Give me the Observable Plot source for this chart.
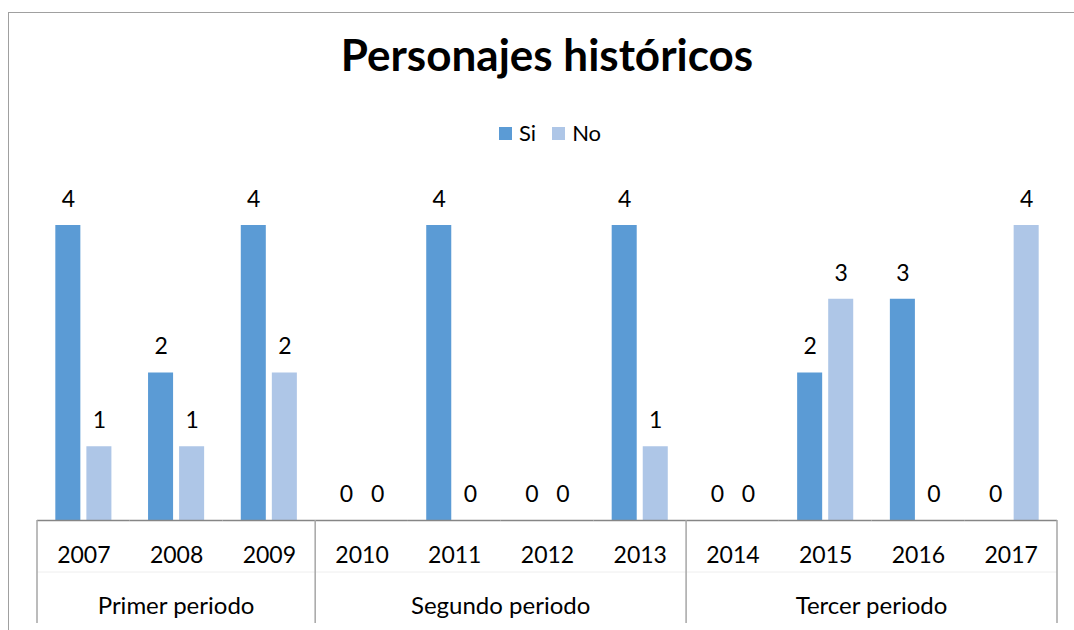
<!DOCTYPE html>
<html>
<head>
<meta charset="utf-8">
<script src="https://cdn.jsdelivr.net/npm/d3@7"></script>
<script src="https://cdn.jsdelivr.net/npm/@observablehq/plot@0.6"></script>
<style>
  html, body { margin: 0; padding: 0; width: 1074px; height: 630px; overflow: hidden; background: #fff; font-family: Lato, "Open Sans", sans-serif; }
  #frame { position: absolute; left: 8px; top: 12px; width: 1200px; height: 800px; border: 1.5px solid #a0a0a0; box-sizing: border-box; }
  #title { position: absolute; left: 0; width: 1094px; top: 32px; text-align: center; font-size: 44px; line-height: 44px; font-weight: bold; color: #000; }
  #legend { position: absolute; left: 499px; top: 122px; display: flex; align-items: center; font-size: 22px; line-height: 22px; color: #000; }
  #legend .sw { width: 13px; height: 13px; display: inline-block; margin-right: 7px; }
  #legend .item { display: flex; align-items: center; margin-right: 16px; }
  #chart { position: absolute; left: 0; top: 150px; }
</style>
</head>
<body>
<div id="frame"></div>
<div id="title">Personajes históricos</div>
<div id="legend"></div>
<div id="chart"></div>
<script>
const years = ["2007","2008","2009","2010","2011","2012","2013","2014","2015","2016","2017"];
const siValues = [4, 2, 4, 0, 4, 0, 4, 0, 2, 3, 0];
const noValues = [1, 1, 2, 0, 0, 0, 1, 0, 3, 0, 4];
const series = ["Si", "No"];
const seriesColors = ["#5B9BD5", "#AEC6E7"];
const periods = ["Primer periodo", "Segundo periodo", "Tercer periodo"];
const periodYearCounts = [3, 4, 4];

const data = [];
years.forEach((y, i) => {
  data.push({year: y, serie: "Si", value: siValues[i]});
  data.push({year: y, serie: "No", value: noValues[i]});
});

// legend
const legend = document.getElementById("legend");
series.forEach((s, i) => {
  const it = document.createElement("span");
  it.className = "item";
  it.innerHTML = `<span class="sw" style="background:${seriesColors[i]}"></span><span>${s}</span>`;
  legend.appendChild(it);
});

const H = 480;
const plot = Plot.plot({
  width: 1074,
  height: H,
  marginLeft: 37,
  marginRight: 17,
  marginTop: 75,
  marginBottom: 110,
  style: {fontFamily: "Lato, 'Open Sans', sans-serif", fontSize: "23px", color: "#000", background: "transparent"},
  fx: {domain: years, padding: 0, round: false, axis: null},
  x: {domain: series, paddingInner: 0.194, paddingOuter: 0.59, round: false, axis: null},
  y: {domain: [0, 4], axis: null},
  color: {domain: series, range: seriesColors},
  marks: [
    Plot.barY(data, {fx: "year", x: "serie", y: "value", fill: "serie"}),
    Plot.text(data, {fx: "year", x: "serie", y: "value", text: d => String(d.value), dy: -26, fontSize: 23, fill: "#000"}),
    Plot.text(years, {fx: d => d, text: d => d, frameAnchor: "bottom", lineAnchor: "middle", dy: 35, fontSize: 23, fill: "#000"}),
    Plot.ruleY([0], {stroke: "#868686", strokeWidth: 1.5})
  ]
});
document.getElementById("chart").appendChild(plot);

// multi-level category axis: dividers and period labels from the fx scale
const fx = plot.scale("fx");
const yScale = plot.scale("y");
const base = yScale.apply(0);
const svg = d3.select(plot);
const g = svg.append("g");
const bw = fx.bandwidth;
const x0 = fx.apply(years[0]);
const x1 = fx.apply(years[years.length - 1]) + bw;
g.append("line").attr("x1", x0).attr("x2", x1).attr("y1", base + 52).attr("y2", base + 52)
  .attr("stroke", "#eeeeee").attr("stroke-width", 1);
let idx = 0;
const bounds = [x0];
periods.forEach((p, k) => {
  const first = years[idx];
  const last = years[idx + periodYearCounts[k] - 1];
  const a = fx.apply(first), b = fx.apply(last) + bw;
  bounds.push(b);
  g.append("text").attr("x", (a + b) / 2).attr("y", base + 88)
    .attr("text-anchor", "middle").attr("dominant-baseline", "middle")
    .attr("font-size", 24).attr("fill", "#000").text(p);
  idx += periodYearCounts[k];
});
bounds.forEach(bx => {
  g.append("line").attr("x1", bx).attr("x2", bx).attr("y1", base).attr("y2", H - 7)
    .attr("stroke", "#a6a6a6").attr("stroke-width", 1.5);
});
</script>
</body>
</html>
